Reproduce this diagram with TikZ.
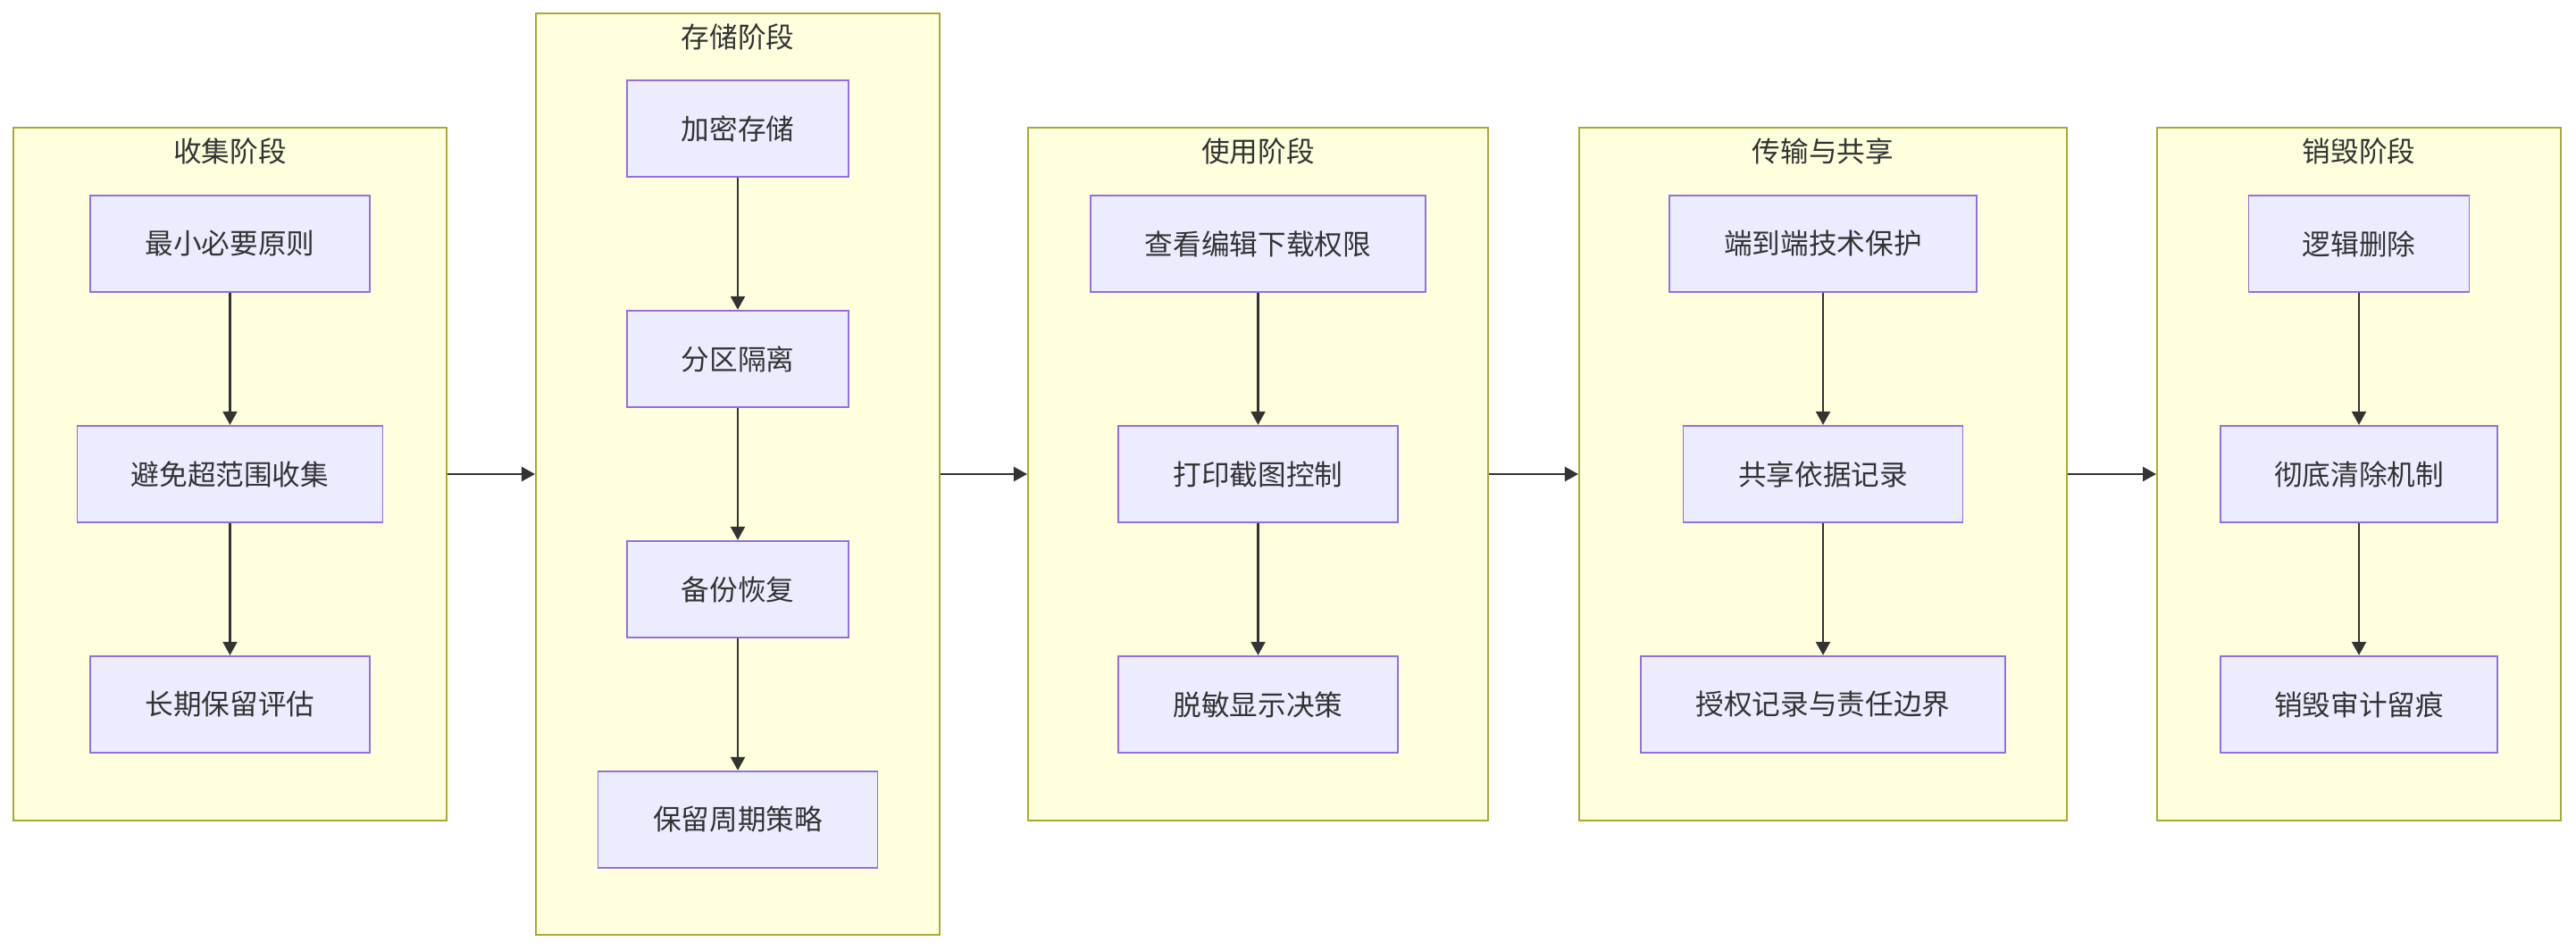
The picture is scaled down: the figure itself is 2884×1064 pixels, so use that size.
\documentclass[tikz,border=0pt]{standalone}
\usepackage{fontspec}
\setmainfont{Noto Sans CJK SC}
\usetikzlibrary{arrows.meta}
\definecolor{clfill}{HTML}{FFFFDE}
\definecolor{cldraw}{HTML}{AAAA33}
\definecolor{ndfill}{HTML}{ECECFF}
\definecolor{nddraw}{HTML}{9370DB}
\definecolor{txt}{HTML}{333333}
\begin{document}
\begin{tikzpicture}[x=0.01cm,y=-0.01cm,
  font=\fontsize{9pt}{11pt}\selectfont,
  cluster/.style={draw=cldraw, fill=clfill, line width=0.5pt, inner sep=0pt},
  box/.style={draw=nddraw, fill=ndfill, line width=0.5pt, minimum height=1.085cm, text=txt, inner sep=0pt},
  ttl/.style={text=txt, inner sep=0pt},
  arr/.style={draw=txt, line width=0.65pt, -{Triangle[length=0.15cm,width=0.16cm]}}]
\useasboundingbox (0,0) rectangle (2884,1064);
% clusters
\node[cluster, minimum width=4.85cm, minimum height=7.75cm] (cA) at (257.5,531) {};
\node[cluster, minimum width=4.52cm, minimum height=10.32cm] (cB) at (826,531) {};
\node[cluster, minimum width=5.15cm, minimum height=7.75cm] (cC) at (1408.5,531) {};
\node[cluster, minimum width=5.46cm, minimum height=7.75cm] (cD) at (2041,531) {};
\node[cluster, minimum width=4.52cm, minimum height=7.75cm] (cE) at (2641,531) {};
% titles
\node[ttl] (tA) at (257.5,169) {收集阶段};
\node[ttl] (tB) at (826,41) {存储阶段};
\node[ttl] (tC) at (1408.5,169) {使用阶段};
\node[ttl] (tD) at (2041,169) {传输与共享};
\node[ttl] (tE) at (2641,169) {销毁阶段};
% cluster A
\node[box, minimum width=3.13cm] (a1) at (257.5,273) {最小必要原则};
\node[box, minimum width=3.42cm] (a2) at (257.5,531) {避免超范围收集};
\node[box, minimum width=3.13cm] (a3) at (257.5,789) {长期保留评估};
% cluster B
\node[box, minimum width=2.48cm] (b1) at (826,144) {加密存储};
\node[box, minimum width=2.48cm] (b2) at (826,402) {分区隔离};
\node[box, minimum width=2.48cm] (b3) at (826,660) {备份恢复};
\node[box, minimum width=3.13cm] (b4) at (826,918) {保留周期策略};
% cluster C
\node[box, minimum width=3.75cm] (c1) at (1408.5,273) {查看编辑下载权限};
\node[box, minimum width=3.13cm] (c2) at (1408.5,531) {打印截图控制};
\node[box, minimum width=3.13cm] (c3) at (1408.5,789) {脱敏显示决策};
% cluster D
\node[box, minimum width=3.44cm] (d1) at (2041,273) {端到端技术保护};
\node[box, minimum width=3.13cm] (d2) at (2041,531) {共享依据记录};
\node[box, minimum width=4.08cm] (d3) at (2041,789) {授权记录与责任边界};
% cluster E
\node[box, minimum width=2.47cm] (e1) at (2641,273) {逻辑删除};
\node[box, minimum width=3.10cm] (e2) at (2641,531) {彻底清除机制};
\node[box, minimum width=3.10cm] (e3) at (2641,789) {销毁审计留痕};
% edges
\draw[arr] (a1) -- (a2);
\draw[arr] (a2) -- (a3);
\draw[arr] (b1) -- (b2);
\draw[arr] (b2) -- (b3);
\draw[arr] (b3) -- (b4);
\draw[arr] (c1) -- (c2);
\draw[arr] (c2) -- (c3);
\draw[arr] (d1) -- (d2);
\draw[arr] (d2) -- (d3);
\draw[arr] (e1) -- (e2);
\draw[arr] (e2) -- (e3);
\draw[arr] (cA) -- (cB);
\draw[arr] (cB) -- (cC);
\draw[arr] (cC) -- (cD);
\draw[arr] (cD) -- (cE);
\end{tikzpicture}
\end{document}
